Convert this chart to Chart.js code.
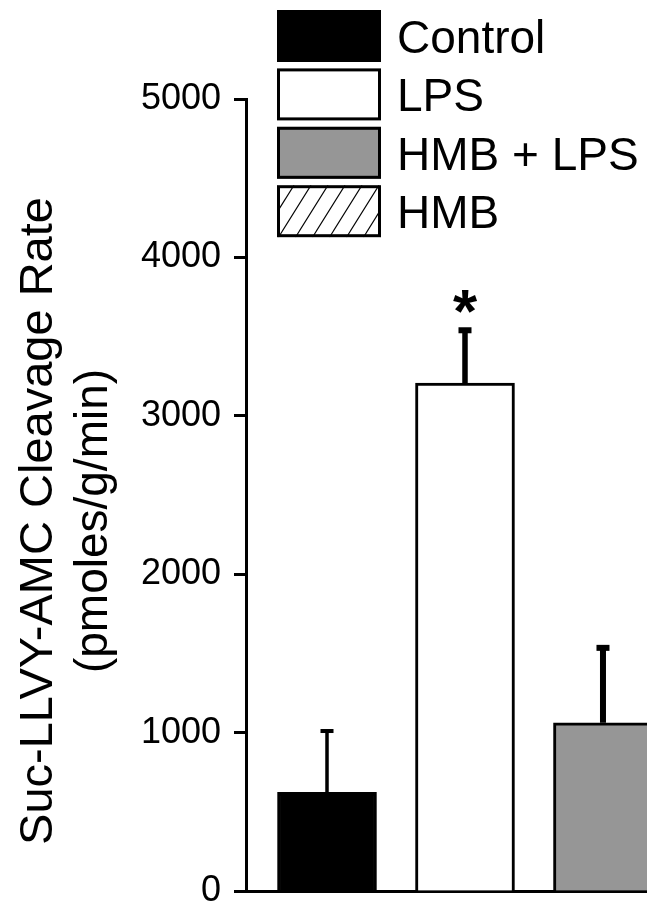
<!DOCTYPE html>
<html>
<head>
<meta charset="utf-8">
<script src="https://cdn.jsdelivr.net/npm/chart.js@4.4.0/dist/chart.umd.min.js"></script>
<style>
  html, body { margin: 0; padding: 0; background: #fff; overflow: hidden; }
  canvas { display: block; }
</style>
</head>
<body>
<canvas id="myChart" width="647" height="907"></canvas>
<script>
const etiquetas = ["Control", "LPS", "HMB + LPS", "HMB"];
const tasas = [623, 3207, 1062, null];      // la barra HMB queda fuera de la imagen
const errores = [1010, 3540, 1535, null];   // extremo superior de la barra de error
const marcas = ["", "*", "", ""];
const ticksY = [0, 1000, 2000, 3000, 4000, 5000];
const tituloY = ["Suc-LLVY-AMC Cleavage Rate", "(pmoles/g/min)"];

const fuente = "'Liberation Sans', Arial, Helvetica, sans-serif";
Chart.defaults.font.family = fuente;
Chart.defaults.color = '#000';

// rayado diagonal para HMB
function rayar(ctx, x, y, w, h) {
    ctx.save();
    ctx.beginPath();
    ctx.rect(x, y, w, h);
    ctx.clip();
    ctx.strokeStyle = '#000';
    ctx.lineWidth = 1.2;
    const dx = h / 1.6;
    for (let x0 = x - dx; x0 < x + w + dx; x0 += 17) {
        ctx.beginPath();
        ctx.moveTo(x0, y + h);
        ctx.lineTo(x0 + dx, y);
        ctx.stroke();
    }
    ctx.restore();
}

const tile = document.createElement('canvas');
tile.width = 17; tile.height = 17;
rayar(tile.getContext('2d'), 0, 0, 17, 17);
const patronHMB = tile.getContext('2d').createPattern(tile, 'repeat');

const colores = ['#000000', '#ffffff', '#969696', patronHMB];
const grosorError = [3.5, 5.5, 6, 6];
const altoTapa = [4, 6, 6, 6];

const barrasError = {
    id: 'barrasError',
    afterDatasetsDraw(chart) {
        const ctx = chart.ctx;
        const y = chart.scales.y;
        chart.getDatasetMeta(0).data.forEach((bar, i) => {
            if (tasas[i] == null || errores[i] == null) return;
            const top = y.getPixelForValue(errores[i]);
            const w = grosorError[i];
            ctx.save();
            ctx.fillStyle = '#000';
            ctx.fillRect(bar.x - w / 2, top, w, bar.y - top);
            ctx.fillRect(bar.x - 6.5, top - altoTapa[i] / 2, 13, altoTapa[i]);
            if (marcas[i]) {
                ctx.font = 'bold 62px ' + fuente;
                ctx.textAlign = 'center';
                ctx.textBaseline = 'alphabetic';
                ctx.fillText(marcas[i], bar.x, top + 2);
            }
            ctx.restore();
        });
    }
};

// leyenda y titulo del eje y dibujados a mano
const extras = {
    id: 'extras',
    afterDraw(chart) {
        const ctx = chart.ctx;
        ctx.save();
        etiquetas.forEach((et, i) => {
            const bx = 277, by = 10 + i * 58.4, bw = 104, bh = 52;
            if (i === 3) {
                ctx.fillStyle = '#fff';
                ctx.fillRect(bx, by, bw, bh);
                rayar(ctx, bx, by, bw, bh);
            } else {
                ctx.fillStyle = colores[i];
                ctx.fillRect(bx, by, bw, bh);
            }
            ctx.strokeStyle = '#000';
            ctx.lineWidth = 3;
            ctx.strokeRect(bx + 1.5, by + 1.5, bw - 3, bh - 3);
            ctx.fillStyle = '#000';
            ctx.font = '46px ' + fuente;
            ctx.textAlign = 'left';
            ctx.textBaseline = 'alphabetic';
            ctx.fillText(et, 397, by + 43);
        });
        ctx.restore();

        ctx.save();
        ctx.fillStyle = '#000';
        ctx.textAlign = 'center';
        ctx.textBaseline = 'alphabetic';
        ctx.translate(52, 521);
        ctx.rotate(-Math.PI / 2);
        ctx.font = '47px ' + fuente;
        ctx.fillText(tituloY[0], 0, 0);
        ctx.restore();

        ctx.save();
        ctx.fillStyle = '#000';
        ctx.textAlign = 'center';
        ctx.textBaseline = 'alphabetic';
        ctx.translate(107, 521);
        ctx.rotate(-Math.PI / 2);
        ctx.font = '46px ' + fuente;
        ctx.fillText(tituloY[1], 0, 0);
        ctx.restore();
    }
};

const $grafica = document.querySelector("#myChart");

const datos = {
    label: 'Suc-LLVY-AMC',
    data: tasas.map((v, i) => ({ x: i, y: v })),
    backgroundColor: colores,
    borderColor: '#000',
    borderWidth: 3,
    borderSkipped: 'start',
    barThickness: 99,
};

new Chart($grafica, {
    type: 'bar',
    data: { datasets: [datos] },
    options: {
        responsive: false,
        animation: false,
        devicePixelRatio: 1,
        layout: { padding: { top: 99, bottom: 0, left: 0, right: 0 } },
        plugins: { legend: { display: false }, tooltip: { enabled: false } },
        scales: {
            x: {
                type: 'linear',
                min: -0.587,
                max: 2.319,
                offset: false,
                ticks: { display: false },
                grid: { display: false },
                border: { display: true, color: '#000', width: 3 },
                afterFit(s) { s.height = 16; s.paddingLeft = 0; s.paddingRight = 0; }
            },
            y: {
                min: 0,
                max: 5000,
                afterBuildTicks(s) { s.ticks = ticksY.map(v => ({ value: v })); },
                ticks: { color: '#000', font: { size: 36 }, padding: 13, callback: v => String(v) },
                grid: { drawOnChartArea: false, drawTicks: true, tickLength: 12, tickWidth: 3, tickColor: '#000' },
                border: { display: true, color: '#000', width: 3 },
                afterFit(s) { s.width = 246; s.paddingTop = 0; s.paddingBottom = 0; }
            }
        }
    },
    plugins: [barrasError, extras]
});
</script>
</body>
</html>
